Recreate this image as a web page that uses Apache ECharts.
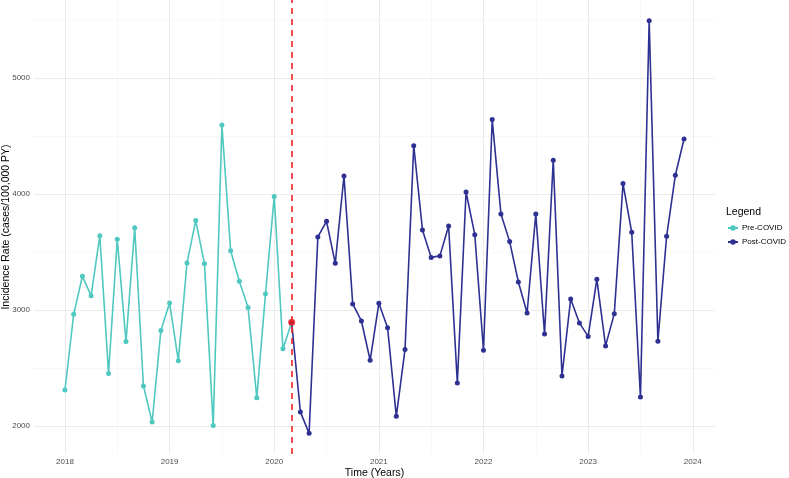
<!DOCTYPE html>
<html>
<head>
<meta charset="utf-8">
<script src="https://cdn.jsdelivr.net/npm/echarts@6/dist/echarts.min.js"></script>
<style>
  html, body { margin: 0; padding: 0; background: #fff; }
  #chart { width: 789px; height: 478px; }
</style>
</head>
<body>
<div id="chart"></div>
<script>
// monthly incidence rates, pre-COVID runs Jan 2018 .. Mar 2020
const preStart = [2018, 1]
const preValues = [2310, 2962, 3290, 3123, 3640, 2451, 3609, 2727, 3709, 2345, 2034, 2822,
  3060, 2563, 3405, 3770, 3399, 2003, 4595, 3511, 3247, 3020, 2244, 3140,
  3979, 2666, 2893]
// post-COVID runs Mar 2020 .. Dec 2023
const postStart = [2020, 3]
const postValues = [2893, 2121, 1936, 3629, 3764, 3402, 4155, 3052, 2905, 2566,
  3057, 2847, 2083, 2660, 4416, 3690, 3453, 3466, 3724, 2371, 4017, 3649,
  2652, 4641, 3828, 3589, 3241, 2974, 3828, 2793, 4290, 2431, 3095, 2888,
  2772, 3264, 2690, 2968, 4089, 3669, 2250, 5494, 2730, 3635, 4161, 4474]
// start of COVID period (Mar 2020)
const covidMonth = [2020, 3]
const covidValue = 2893

const xTicks = [2018, 2019, 2020, 2021, 2022, 2023, 2024]
const xMinor = [2018.5, 2019.5, 2020.5, 2021.5, 2022.5, 2023.5]
const yTicks = [2000, 3000, 4000, 5000]
const yMinor = [2500, 3500, 4500, 5500]

// year + month -> decimal year
function toYear (y, m) { return y + (m - 1) / 12 }
function buildSeries (start, values) {
  return values.map((v, i) => {
    const m = start[1] - 1 + i
    return [toYear(start[0] + Math.floor(m / 12), (m % 12) + 1), v]
  })
}

const preData = buildSeries(preStart, preValues)
const postData = buildSeries(postStart, postValues)
const covidX = toYear(covidMonth[0], covidMonth[1])

// ggplot style padding of 5% on each side
const xs = preData.concat(postData).map(d => d[0])
const ys = preValues.concat(postValues)
const xPad = (Math.max(...xs) - Math.min(...xs)) * 0.05
const yPad = (Math.max(...ys) - Math.min(...ys)) * 0.05
const xMin = Math.min(...xs) - xPad
const xMax = Math.max(...xs) + xPad
const yMin = Math.min(...ys) - yPad
const yMax = Math.max(...ys) + yPad

const font = 'Liberation Sans, Arial, sans-serif'

// one axis pair carries labels + major grid, a hidden pair the minor grid
function xAxisOf (ticks, lineStyle, withLabels) {
  return {
    type: 'value',
    min: xMin,
    max: xMax,
    name: withLabels ? 'Time (Years)' : '',
    nameLocation: 'middle',
    nameGap: 14,
    nameMoveOverlap: false,
    nameTextStyle: { fontSize: 10.5, color: '#000' },
    axisLine: { show: false },
    axisTick: { show: false, customValues: ticks },
    splitLine: { show: true, lineStyle: lineStyle },
    axisLabel: {
      show: withLabels,
      customValues: ticks,
      fontSize: 8,
      color: '#4d4d4d',
      margin: 4,
      formatter: v => String(Math.round(v))
    }
  }
}
function yAxisOf (ticks, lineStyle, withLabels) {
  return {
    type: 'value',
    min: yMin,
    max: yMax,
    name: withLabels ? 'Incidence Rate (cases/100,000 PY)' : '',
    nameLocation: 'middle',
    nameGap: 22,
    nameMoveOverlap: false,
    nameTextStyle: { fontSize: 10.5, color: '#000' },
    axisLine: { show: false },
    axisTick: { show: false, customValues: ticks },
    splitLine: { show: true, lineStyle: lineStyle },
    axisLabel: {
      show: withLabels,
      customValues: ticks,
      fontSize: 8,
      color: '#4d4d4d',
      margin: 4,
      formatter: v => String(Math.round(v))
    }
  }
}

const major = { color: '#ebebeb', width: 1 }
const minor = { color: '#f5f5f5', width: 0.7 }

const chart = echarts.init(document.getElementById('chart'))
chart.setOption({
  animation: false,
  textStyle: { fontFamily: font },
  title: {
    text: 'Legend',
    left: 726,
    top: 207,
    padding: 0,
    textStyle: { fontSize: 10.5, fontWeight: 'normal', color: '#000', fontFamily: font }
  },
  legend: {
    data: ['Pre-COVID', 'Post-COVID'],
    orient: 'vertical',
    left: 727,
    top: 224,
    padding: 0,
    itemWidth: 10,
    itemHeight: 7,
    itemGap: 6,
    textStyle: { fontSize: 8, color: '#000', fontFamily: font, padding: [0, 0, 0, -1] }
  },
  grid: { left: 34, right: 74, top: 0, bottom: 24, outerBoundsMode: 'none' },
  xAxis: [xAxisOf(xTicks, major, true), xAxisOf(xMinor, minor, false)],
  yAxis: [yAxisOf(yTicks, major, true), yAxisOf(yMinor, minor, false)],
  series: [
    {
      name: 'Pre-COVID',
      type: 'line',
      data: preData,
      z: 3,
      symbol: 'circle',
      symbolSize: 5,
      color: '#4fc8c0',
      lineStyle: { width: 1.6 }
    },
    {
      name: 'Post-COVID',
      type: 'line',
      data: postData,
      z: 3,
      symbol: 'circle',
      symbolSize: 5,
      color: '#2e3192',
      lineStyle: { width: 1.6 },
      markLine: {
        silent: true,
        symbol: 'none',
        label: { show: false },
        lineStyle: { color: '#ee2222', width: 1.6, type: [6, 5] },
        data: [{ xAxis: covidX }]
      }
    },
    {
      type: 'scatter',
      data: [[covidX, covidValue]],
      z: 4,
      symbolSize: 7,
      itemStyle: { color: '#f21d1d' }
    }
  ]
})
</script>
</body>
</html>
